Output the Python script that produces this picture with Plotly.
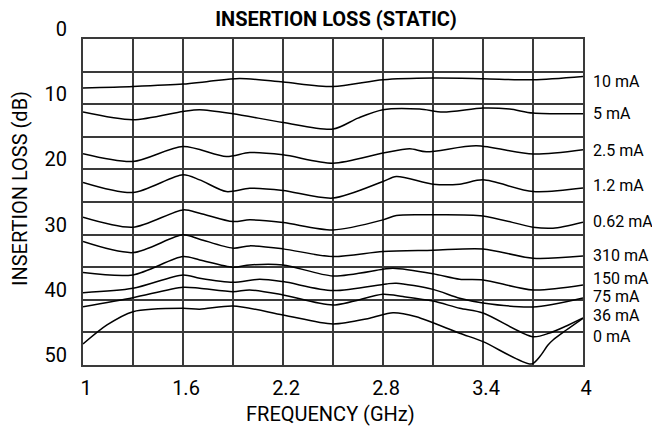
import plotly.graph_objects as go

# ---- data (frequency in GHz, insertion loss in dB) ----
series_names = ["10 mA", "5 mA", "2.5 mA", "1.2 mA", "0.62 mA",
                "310 mA", "150 mA", "75 mA", "36 mA", "0 mA"]

f_10 = [1.0, 1.3, 1.6, 1.75, 1.94, 2.2, 2.5, 2.8, 3.1, 3.4, 3.7, 4.0]
il_10 = [7.52, 7.28, 6.91, 6.51, 6.05, 6.6, 7.28, 6.25, 5.99, 6.09, 6.25, 5.74]

f_5 = [1.0, 1.3, 1.6, 1.7, 1.9, 2.2, 2.5, 2.65, 2.8, 3.02, 3.16, 3.4, 3.56, 3.7, 4.0]
il_5 = [11.21, 12.39, 11.11, 10.85, 11.47, 12.8, 13.82, 12.13, 10.85, 10.75, 11.21, 10.59, 10.75, 11.36, 11.47]

f_2p5 = [1.0, 1.3, 1.6, 1.86, 2.0, 2.2, 2.5, 2.8, 2.96, 3.06, 3.36, 3.7, 4.0]
il_2p5 = [17.61, 18.79, 16.49, 18.02, 17.41, 17.76, 19.04, 17.5, 16.84, 17.3, 16.38, 17.65, 16.99]

f_1p2 = [1.0, 1.3, 1.6, 1.7, 1.86, 2.0, 2.2, 2.5, 2.8, 2.88, 3.1, 3.26, 3.4, 3.7, 4.0]
il_1p2 = [22.0, 23.55, 20.83, 21.6, 23.4, 22.9, 23.24, 24.4, 21.86, 21.1, 22.26, 22.26, 21.6, 23.4, 22.87]

f_0p62 = [1.0, 1.3, 1.6, 1.7, 1.9, 2.0, 2.2, 2.5, 2.8, 2.88, 3.04, 3.4, 3.7, 3.82, 4.0]
il_0p62 = [27.33, 28.86, 26.21, 26.71, 28.0, 27.74, 28.15, 29.28, 27.74, 27.08, 26.97, 27.13, 28.86, 29.01, 28.09]

f_310 = [1.0, 1.3, 1.6, 1.7, 1.9, 2.0, 2.2, 2.5, 2.8, 3.1, 3.4, 3.7, 4.0]
il_310 = [31.07, 32.76, 30.04, 30.7, 32.08, 31.73, 32.19, 33.37, 32.6, 32.4, 32.2, 33.62, 33.27]

f_150 = [1.0, 1.3, 1.6, 1.7, 1.9, 2.0, 2.2, 2.5, 2.8, 2.86, 3.1, 3.26, 3.4, 3.7, 4.0]
il_150 = [35.83, 36.18, 33.37, 33.88, 35.0, 34.65, 34.65, 36.34, 35.31, 35.16, 36.0, 36.84, 36.95, 38.49, 37.72]

f_75 = [1.0, 1.3, 1.6, 1.7, 1.9, 2.06, 2.2, 2.5, 2.82, 2.88, 3.1, 3.26, 3.4, 3.7, 4.0]
il_75 = [38.9, 38.23, 36.18, 36.69, 37.3, 36.84, 37.21, 38.59, 37.56, 37.46, 38.4, 39.76, 40.48, 41.1, 39.72]

f_36 = [1.0, 1.3, 1.6, 1.7, 1.9, 2.0, 2.2, 2.5, 2.8, 2.92, 3.1, 3.26, 3.4, 3.7, 3.8, 3.9, 4.0]
il_36 = [41.05, 39.67, 38.07, 38.23, 38.75, 38.49, 39.25, 40.79, 39.15, 39.51, 40.2, 41.3, 42.02, 45.66, 45.09, 44.01, 42.78]

f_0 = [1.0, 1.144, 1.3, 1.6, 1.7, 1.9, 2.2, 2.5, 2.72, 2.86, 3.0, 3.26, 3.4, 3.69, 3.74, 3.79, 3.82, 3.9, 4.0]
il_0 = [46.78, 43.86, 41.82, 41.3, 41.45, 40.94, 42.32, 43.71, 42.83, 41.97, 42.59, 45.13, 46.42, 49.85, 48.73, 46.93, 46.16, 44.63, 42.83]

freqs = [f_10, f_5, f_2p5, f_1p2, f_0p62, f_310, f_150, f_75, f_36, f_0]
losses = [il_10, il_5, il_2p5, il_1p2, il_0p62, il_310, il_150, il_75, il_36, il_0]

x_grid = [1.0, 1.3, 1.6, 1.9, 2.2, 2.5, 2.8, 3.1, 3.4, 3.7, 4.0]
x_ticktext = ["1", "", "1.6", "", "2.2", "", "2.8", "", "3.4", "", "4"]
y_grid = [0, 5, 10, 15, 20, 25, 30, 35, 40, 45, 50]
y_ticktext = ["0", "", "10", "", "20", "", "30", "", "40", "", "50"]

# label anchor positions (dB) for the right-hand curve labels
label_pos = [6.51, 11.47, 17.15, 22.52, 28.0, 33.22, 36.8, 39.56, 42.48, 45.66]

FONT = "Roboto, Liberation Sans, Arial, sans-serif"

fig = go.Figure()
for name, fx, fy in zip(series_names, freqs, losses):
    fig.add_trace(go.Scatter(x=fx, y=fy, mode="lines", name=name,
                             line=dict(color="black", width=1.5, shape="spline", smoothing=0.8),
                             showlegend=False, hoverinfo="skip"))

for name, ly in zip(series_names, label_pos):
    fig.add_annotation(x=1.016, xref="paper", y=ly, yref="y", text=name,
                       showarrow=False, xanchor="left", yanchor="middle",
                       font=dict(family=FONT, size=16, color="black"))

fig.add_annotation(x=-0.126, xref="paper", y=0.54, yref="paper",
                   text="INSERTION LOSS (dB)", textangle=-90, showarrow=False,
                   xanchor="center", yanchor="middle",
                   font=dict(family=FONT, size=20, color="black"))
fig.add_annotation(x=0.494, xref="paper", y=-0.150, yref="paper",
                   text="FREQUENCY (GHz)", showarrow=False,
                   xanchor="center", yanchor="middle",
                   font=dict(family=FONT, size=20, color="black"))

fig.update_layout(
    template="none",
    width=652, height=429,
    margin=dict(l=83, r=69, t=39, b=64, autoexpand=False),
    paper_bgcolor="white", plot_bgcolor="white",
    title=dict(text="<b>INSERTION LOSS (STATIC)</b>", x=336/652, xref="container",
               xanchor="center", y=1 - 18.5/429, yref="container", yanchor="middle",
               font=dict(family=FONT, size=20, color="black")),
    font=dict(family=FONT, color="black"),
)
fig.update_xaxes(range=[1, 4], tickvals=x_grid, ticktext=x_ticktext, automargin=False,
                 showgrid=True, gridcolor="#3a3a3a", gridwidth=2,
                 showline=True, linecolor="#3a3a3a", linewidth=2, mirror=True,
                 ticks="", ticklabelstandoff=4, ticklabelshift=3,
                 tickfont=dict(family=FONT, size=20, color="black"), zeroline=False)
fig.update_yaxes(range=[50, 0], tickvals=y_grid, ticktext=y_ticktext, automargin=False,
                 showgrid=True, gridcolor="#3a3a3a", gridwidth=2,
                 showline=True, linecolor="#3a3a3a", linewidth=2, mirror=True,
                 ticks="", ticklabelstandoff=10, ticklabelshift=10,
                 tickfont=dict(family=FONT, size=20, color="black"), zeroline=False)

fig.write_html("out.html",
               config={"displayModeBar": False, "staticPlot": True},
               post_script="document.body.style.margin='0px';document.body.style.overflow='hidden';")
